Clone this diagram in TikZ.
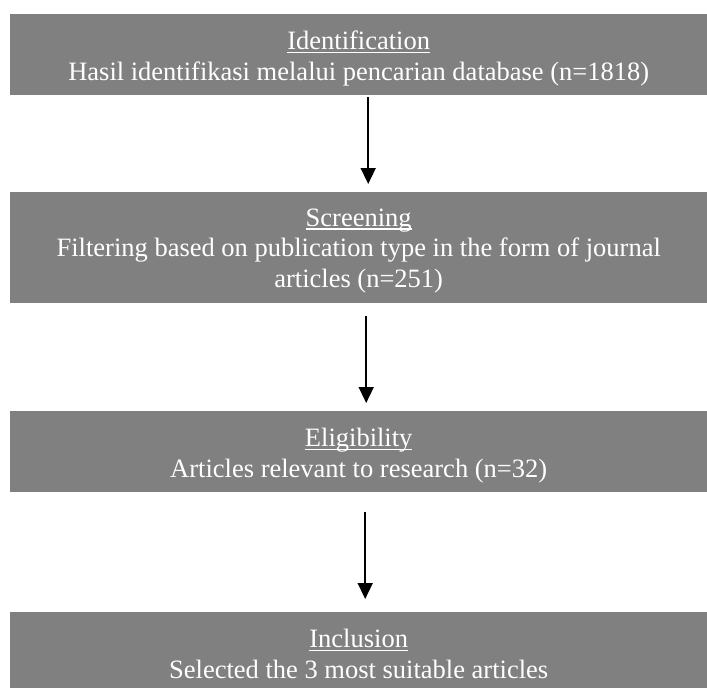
\documentclass[tikz,border=0pt]{standalone}
\usepackage{fontspec}
\setmainfont{Liberation Serif}
\usetikzlibrary{arrows.meta}
\definecolor{boxgray}{RGB}{128,128,128}
\newcommand\ulword[1]{\setbox0\hbox{#1}\rlap{\rule[-3.5pt]{\wd0}{1.2pt}}\box0}
\tikzset{
  stagebox/.style={fill=boxgray, draw=none, inner sep=0pt, minimum width=697pt, anchor=north west},
  stagetext/.style={text=white, font=\fontsize{26.5pt}{30.5pt}\selectfont, align=center, anchor=base, inner sep=0pt},
  flowarrow/.style={line width=1.6pt, -{Triangle[width=15pt,length=16pt]}}
}
\begin{document}
\begin{tikzpicture}
\useasboundingbox (0,0) rectangle (707pt,-688pt);
% boxes
\node[stagebox, minimum height=81pt]  (b1) at (10pt,-14pt) {};
\node[stagebox, minimum height=111pt] (b2) at (10pt,-192pt) {};
\node[stagebox, minimum height=81pt]  (b3) at (10pt,-411pt) {};
\node[stagebox, minimum height=76pt]  (b4) at (10pt,-612pt) {};
% texts (anchor base = baseline of the last line)
\node[stagetext] (t1) at ([yshift=-66pt]b1.north) {\ulword{Identification}\\Hasil identifikasi melalui pencarian database (n=1818)};
\node[stagetext] (t2) at ([yshift=-95pt]b2.north) {\ulword{Screening}\\Filtering based on publication type in the form of journal\\articles (n=251)};
\node[stagetext] (t3) at ([yshift=-66pt]b3.north) {\ulword{Eligibility}\\Articles relevant to research (n=32)};
\node[stagetext] (t4) at ([yshift=-66pt]b4.north) {\ulword{Inclusion}\\Selected the 3 most suitable articles};
% arrows
\draw[flowarrow, shorten <=2pt, shorten >=8pt] ([xshift=9.5pt]b1.south) -- ([xshift=9.5pt]b2.north);
\draw[flowarrow, shorten <=13pt, shorten >=8pt] ([xshift=7.5pt]b2.south) -- ([xshift=7.5pt]b3.north);
\draw[flowarrow, shorten <=20pt, shorten >=13pt] ([xshift=6.5pt]b3.south) -- ([xshift=6.5pt]b4.north);
\end{tikzpicture}
\end{document}
